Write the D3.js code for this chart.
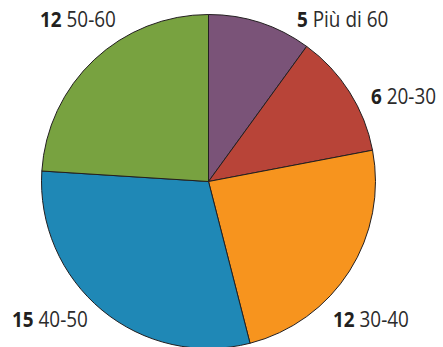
<!DOCTYPE html>
<html>
<head>
<meta charset="utf-8">
<script src="https://cdn.jsdelivr.net/npm/d3@7"></script>
<style>
  html, body { margin: 0; padding: 0; background: #fff; }
  svg { display: block; }
  text { font-family: "Open Sans", "Noto Sans", sans-serif; font-size: 22px; fill: #231f20; }
</style>
</head>
<body>
<svg id="chart" width="443" height="347"></svg>
<script>
// Age groups, clockwise from 12 o'clock
const categories = ["Più di 60", "20-30", "30-40", "40-50", "50-60"];
const values = [5, 6, 12, 15, 12];
const colors = ["#7a5378", "#b84438", "#f7941e", "#1f88b6", "#78a240"];

// Label placement (x of left edge, baseline y) for each slice
const labelPos = [[297, 27], [371, 104], [333, 327], [12, 327], [40, 27]];

const svg = d3.select("#chart");
const cx = 208.5, cy = 181.5, r = 167;

const pie = d3.pie().sort(null).value(d => d)(values);
const arc = d3.arc().innerRadius(0).outerRadius(r);

const g = svg.append("g").attr("transform", `translate(${cx},${cy})`);
g.selectAll("path")
  .data(pie)
  .join("path")
  .attr("d", arc)
  .attr("fill", (d, i) => colors[i])
  .attr("stroke", "#231f20")
  .attr("stroke-width", 1)
  .attr("stroke-linejoin", "round");

// Slightly condensed labels: bold count followed by the age group
const labels = svg.selectAll("text.lbl")
  .data(pie)
  .join("text")
  .attr("class", "lbl")
  .attr("transform", (d, i) => `translate(${labelPos[i][0]},${labelPos[i][1]}) scale(0.86,1)`);
labels.append("tspan").attr("font-weight", 700).text(d => d.data);
labels.append("tspan").attr("fill", "#2b2b2b").text((d, i) => "\u00a0" + categories[i]);
</script>
</body>
</html>
